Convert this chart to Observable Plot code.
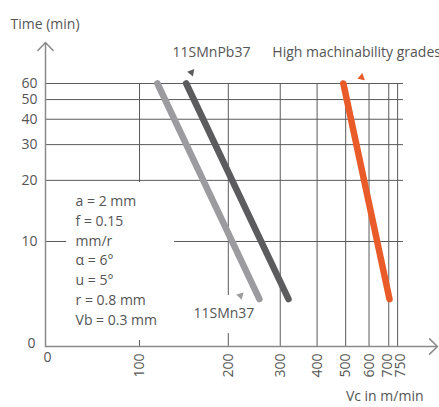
<!DOCTYPE html>
<html><head><meta charset="utf-8">
<script src="https://cdn.jsdelivr.net/npm/d3@7"></script>
<script src="https://cdn.jsdelivr.net/npm/@observablehq/plot@0.6"></script>
<style>html,body{margin:0;padding:0;background:#fff;overflow:hidden}</style>
</head><body><div id="chart"></div>
<script>
// ---- data ----
const xTicks = [100, 200, 300, 400, 500, 600, 700, 750];
const yTicks = [10, 20, 30, 40, 50, 60];
const grades = ["11SMn37", "11SMnPb37", "High machinability grades"];
const vcAt60 = [115, 144, 491];      // cutting speed at T = 60 min
const vcAtEnd = [255, 320, 704];     // cutting speed at the lower end
const tStart = [60, 60, 60];
const tEnd = [5.2, 5.2, 5.2];
const conditions = ["a = 2 mm", "f = 0.15", "mm/r", "α = 6°", "u = 5°", "r = 0.8 mm", "Vb = 0.3 mm"];

// ---- layout / styles ----
const colors = ["#9c9ca0", "#5c5c5e", "#e95b29"];
const xMin = 48, xMax = 1024, yMin = 3.04, yMax = 95.5;
const gridXEnd = 785;
const gridColor = "#5a5a5a";
const axisColor = "#8a8a8a";
const textColor = "#555";

const lines = grades.map((g, i) => ({grade: g, x1: vcAt60[i], y1: tStart[i], x2: vcAtEnd[i], y2: tEnd[i]}));

const labels = [
  {text: "11SMnPb37", x: 129.4, y: 85.3},
  {text: "High machinability grades", x: 282, y: 85.3},
  {text: "11SMn37", x: 152.4, y: 4.42}
];
const markers = [
  {grade: "11SMnPb37", x: 150, y: 68, rotate: 160},
  {grade: "11SMn37", x: 220, y: 5.42, rotate: 45},
  {grade: "High machinability grades", x: 566, y: 64.3, rotate: 10}
];
const masks = [
  {x1: 56.6, x2: 131.4, y1: 3.25, y2: 19.5},
  {x1: 146.6, x2: 245, y1: 3.52, y2: 5.42}
];

const lastTick = xTicks[xTicks.length - 1];
const xLabelStyle = {y: yMin, text: d => String(d), dy: 7, rotate: -90, textAnchor: "end", lineAnchor: "middle", fill: textColor};

const chart = Plot.plot({
  width: 439,
  height: 407,
  marginLeft: 45,
  marginRight: 2,
  marginTop: 42,
  marginBottom: 61,
  style: {fontFamily: "'Open Sans', 'Noto Sans', sans-serif", fontSize: "14px", color: textColor, background: "#fff"},
  x: {type: "log", domain: [xMin, xMax], axis: null},
  y: {type: "log", domain: [yMin, yMax], axis: null},
  color: {domain: grades, range: colors},
  marks: [
    Plot.ruleY(yTicks, {x1: xMin, x2: gridXEnd, stroke: gridColor, strokeWidth: 1}),
    Plot.ruleX(xTicks, {y1: yMin, y2: 60, stroke: gridColor, strokeWidth: 1}),
    Plot.rect(masks, {x1: "x1", x2: "x2", y1: "y1", y2: "y2", fill: "#fff"}),
    Plot.arrow([{x1: xMin, y1: yMin, x2: xMin, y2: yMax}, {x1: xMin, y1: yMin, x2: xMax, y2: yMin}],
      {x1: "x1", y1: "y1", x2: "x2", y2: "y2", stroke: axisColor, strokeWidth: 1.5, headLength: 11, headAngle: 88}),
    Plot.text(yTicks, {x: xMin, y: d => d, text: d => String(d), dx: -8, textAnchor: "end", fill: textColor}),
    Plot.text(xTicks.filter(d => d < 700), {x: d => d, ...xLabelStyle}),
    Plot.text(xTicks.filter(d => d === 700), {x: d => d, ...xLabelStyle, dx: -1.5}),
    Plot.text(xTicks.filter(d => d === lastTick), {x: d => d, ...xLabelStyle, dx: 3}),
    Plot.text(["0"], {x: xMin, y: yMin, dx: -10, textAnchor: "end", fill: textColor, dy: -3}),
    Plot.text(["0"], {x: xMin, y: yMin, dy: 11, dx: 2, fill: textColor}),
    Plot.link(lines, {x1: "x1", y1: "y1", x2: "x2", y2: "y2", stroke: "grade", strokeWidth: 6.5, strokeLinecap: "round"}),
    Plot.dot(markers, {x: "x", y: "y", fill: "grade", symbol: "triangle2", r: 3.6, rotate: "rotate"}),
    Plot.text(labels, {x: "x", y: "y", text: "text", textAnchor: "start", fill: textColor}),
    Plot.text([conditions.join("\n")], {x: 60.7, y: 8.2, textAnchor: "start", lineAnchor: "middle", lineHeight: 1.414, fill: textColor}),
    Plot.text(["Time (min)"], {frameAnchor: "top-left", dx: -35, dy: -23, textAnchor: "start", fill: textColor}),
    Plot.text(["Vc in m/min"], {frameAnchor: "bottom-right", dx: -14, dy: 54, textAnchor: "end", fill: textColor})
  ]
});
document.getElementById("chart").appendChild(chart);
</script>
</body></html>
